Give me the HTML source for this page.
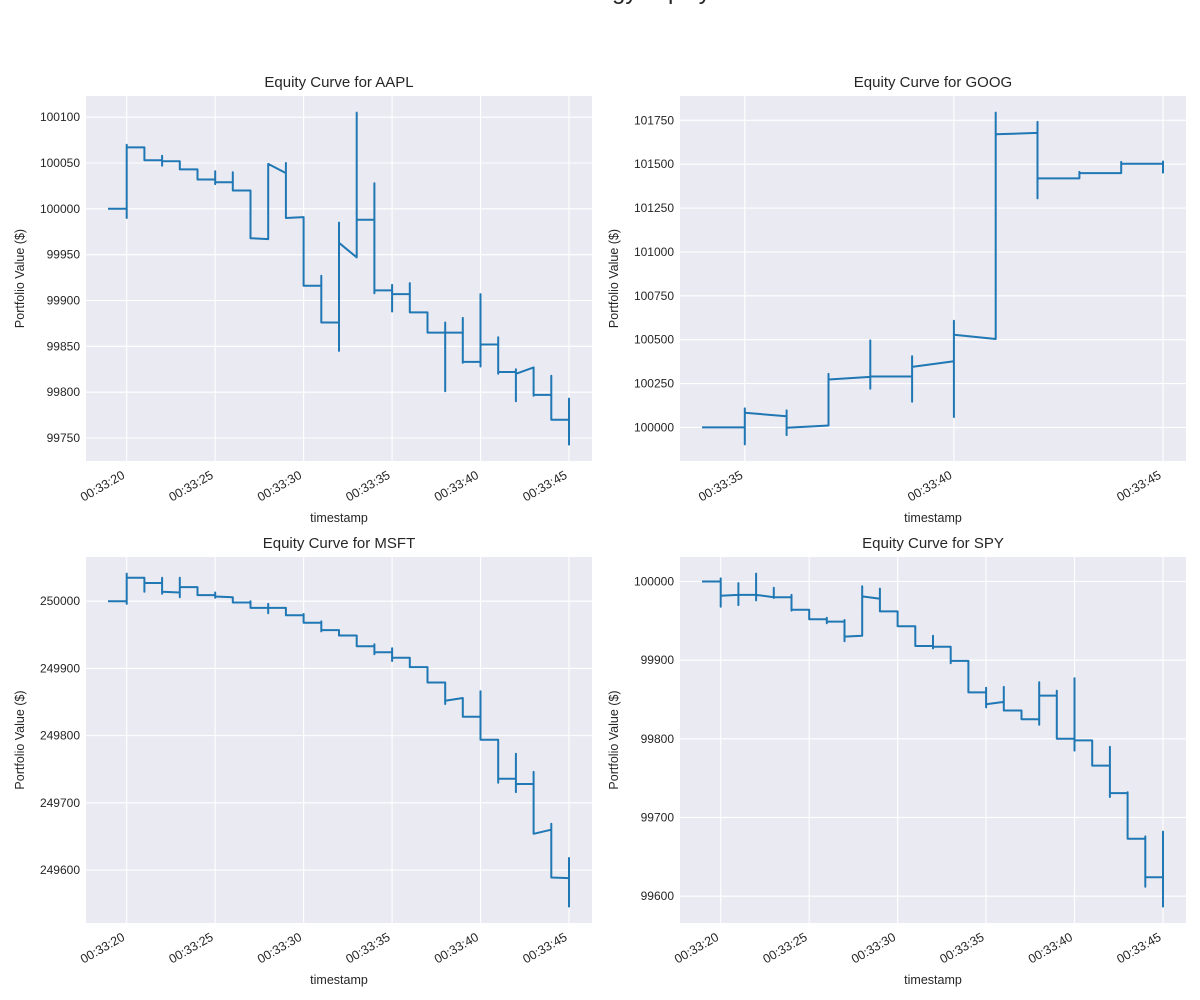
<!DOCTYPE html>
<html><head><meta charset="utf-8"><style>
html,body{margin:0;padding:0;background:#fff;}
svg{display:block;font-family:"Liberation Sans",Arial,sans-serif;}
</style></head><body>
<svg id="fig" width="1200" height="1000" viewBox="0 0 1200 1000">
<text x="548" y="-1" font-size="24" fill="#262626">Strategy Equity Curves</text>
</svg>
<script>
const aaplStart = 19;
const aaplValues = [
[100000],[100000,99990,100070,100067],[100067,100053],[100053,100047,100058,100052],[100052,100043],
[100043,100032],[100032,100041,100027,100029],[100029,100040,100020],[100020,99968],[99967,100049],
[100039,100050,99990],[99991,99916],[99916,99927,99876],[99876,99845,99985,99963],[99947,100105,99988],
[99988,100028,99908,99911],[99911,99917,99888,99907],[99907,99919,99887],[99887,99865],[99865,99876,99801,99865],
[99865,99881,99832,99833],[99833,99907,99828,99852],[99852,99860,99820,99822],[99822,99825,99790,99820],
[99827,99796,99797],[99797,99818,99770],[99770,99793,99743]];
const googStart = 34;
const googValues = [
[100000],[100000,99903,100108,100083],[100064,100097,99956,99998],[100011,100305,100273],
[100288,100496,100220,100290],[100290,100405,100146,100345],[100377,100608,100059,100528],
[100504,101794,101670],[101678,101741,101305,101419],[101419,101456,101449],[101449,101513,101502],
[101502,101515,101453]];
const msftStart = 19;
const msftValues = [
[250000],[250000,249996,250041,250035],[250035,250014,250027],[250027,250035,250011,250014],
[250013,250035,250006,250021],[250021,250009],[250009,250013,250005,250007],[250006,249998],
[249998,250000,249990],[249990,249996,249982,249990],[249990,249979],[249979,249981,249968],
[249968,249970,249955,249957],[249957,249949],[249949,249933],[249933,249936,249921,249924],
[249924,249930,249911,249916],[249916,249902],[249902,249879],[249879,249847,249852],[249856,249828],
[249828,249866,249794],[249794,249730,249736],[249736,249773,249716,249728],[249728,249746,249654],
[249660,249669,249589],[249588,249618,249546]];
const spyStart = 19;
const spyValues = [
[100000],[100000,100004,99968,99982],[99983,99998,99970,99983],[99983,100010,99976,99983],
[99980,99992,99979,99980],[99980,99983,99963,99964],[99964,99952],[99952,99954,99947,99949],
[99949,99951,99924,99930],[99931,99994,99981],[99978,99991,99962],[99962,99943],[99943,99918],
[99918,99931,99915,99917],[99917,99896,99899],[99899,99859],[99859,99865,99840,99844],
[99847,99866,99836],[99836,99825],[99825,99872,99818,99855],[99855,99861,99800],
[99800,99877,99785,99798],[99798,99766],[99766,99790,99726,99731],[99731,99732,99673],
[99673,99676,99612,99624],[99624,99682,99587]];
const aaplYTicks = [99750,99800,99850,99900,99950,100000,100050,100100];
const googYTicks = [100000,100250,100500,100750,101000,101250,101500,101750];
const msftYTicks = [249600,249700,249800,249900,250000];
const spyYTicks = [99600,99700,99800,99900,100000];
const wideXTicks = [20,25,30,35,40,45];
const googXTicks = [35,40,45];

const NS = "http://www.w3.org/2000/svg";
const svg = document.getElementById('fig');
function mk(tag, attrs, parent){
  const e = document.createElementNS(NS, tag);
  for (const k in attrs) e.setAttribute(k, attrs[k]);
  (parent||svg).appendChild(e);
  return e;
}
function fmtT(s){ return "00:33:" + String(s).padStart(2,'0'); }

function panel(name, title, start, vals, yTicks, xTicks, px, py, pw, ph){
  const g = mk('g', {});
  
  
  const ts = [], vs = [];
  vals.forEach((arr, i) => arr.forEach(v => { ts.push(start + i); vs.push(v); }));
  const tmin = Math.min(...ts), tmax = Math.max(...ts);
  const vmin = Math.min(...vs), vmax = Math.max(...vs);
  const tm = (tmax - tmin) * 0.05, vm = (vmax - vmin) * 0.05;
  const x0 = tmin - tm, x1 = tmax + tm, y0 = vmin - vm, y1 = vmax + vm;
  const X = t => px + (t - x0) / (x1 - x0) * pw;
  const Y = v => py + ph - (v - y0) / (y1 - y0) * ph;
  const bg = mk('rect', {x:px, y:py, width:pw, height:ph, fill:'#eaeaf2'}, g);
  
  
  yTicks.forEach(v => {
    const y = Y(v);
    const l = mk('line', {x1:px, x2:px+pw, y1:y, y2:y, stroke:'#fff', 'stroke-width':1.1}, g);
    
    
    const t = mk('text', {x:px-6, y:y, 'font-size':12, fill:'#262626', 'text-anchor':'end', 'dominant-baseline':'central'}, g);
    
    
    t.textContent = v;
  });
  xTicks.forEach(s => {
    const x = X(s);
    const l = mk('line', {x1:x, x2:x, y1:py, y2:py+ph, stroke:'#fff', 'stroke-width':1.1}, g);
    
    
    const tx = x - 3, ty = py + ph + 13;
    const t = mk('text', {x:tx, y:ty, 'font-size':12.5, fill:'#262626', 'text-anchor':'end', 'dominant-baseline':'central', transform:`rotate(-30 ${tx} ${ty})`}, g);
    
    
    t.textContent = fmtT(s);
  });
  const pts = ts.map((t, i) => X(t).toFixed(1) + ',' + Y(vs[i]).toFixed(1)).join(' ');
  const line = mk('polyline', {points:pts, fill:'none', stroke:'#1f77b4', 'stroke-width':2, 'stroke-linejoin':'round', 'stroke-linecap':'square'}, g);
  
  
  const tt = mk('text', {x:px+pw/2, y:py-9, 'font-size':15, fill:'#262626', 'text-anchor':'middle'}, g);
  
  
  tt.textContent = title;
  const xl = mk('text', {x:px+pw/2, y:py+ph+61, 'font-size':12.5, fill:'#262626', 'text-anchor':'middle'}, g);
  
  
  xl.textContent = 'timestamp';
  const lx = px - 62, ly = py + ph/2;
  const yl = mk('text', {x:lx, y:ly, 'font-size':12.5, fill:'#262626', 'text-anchor':'middle', transform:`rotate(-90 ${lx} ${ly})`}, g);
  
  
  yl.textContent = 'Portfolio Value ($)';
}
panel('aapl', 'Equity Curve for AAPL', aaplStart, aaplValues, aaplYTicks, wideXTicks, 86, 96, 506, 365);
panel('goog', 'Equity Curve for GOOG', googStart, googValues, googYTicks, googXTicks, 680, 96, 506, 365);
panel('msft', 'Equity Curve for MSFT', msftStart, msftValues, msftYTicks, wideXTicks, 86, 557, 506, 366);
panel('spy', 'Equity Curve for SPY', spyStart, spyValues, spyYTicks, wideXTicks, 680, 557, 506, 366);
</script>
</body></html>
